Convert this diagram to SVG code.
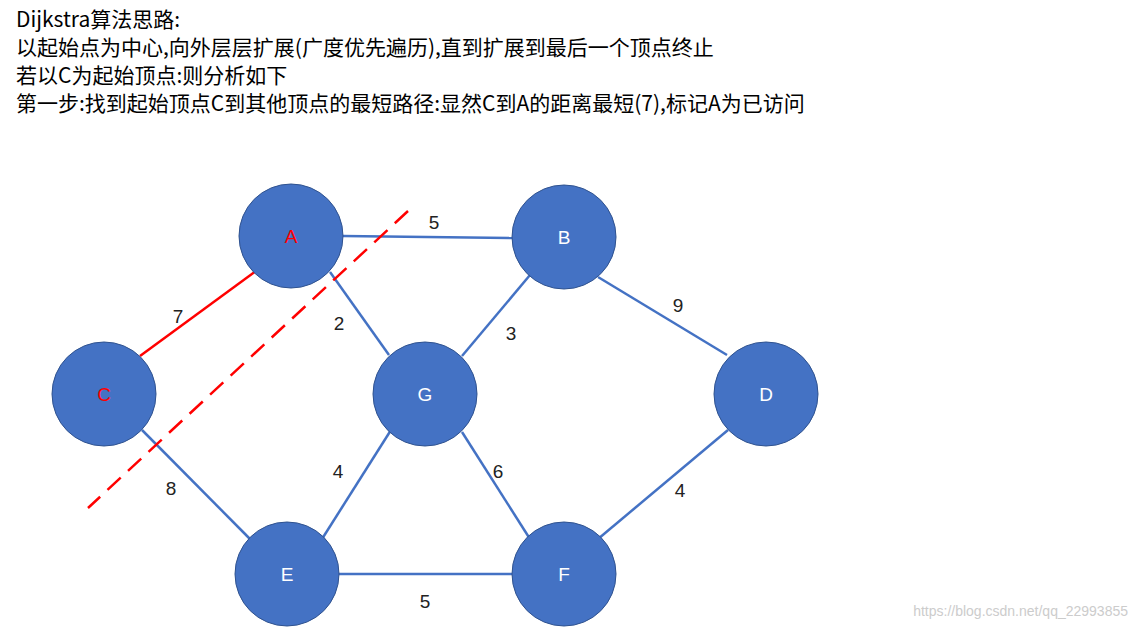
<svg xmlns="http://www.w3.org/2000/svg" width="1138" height="630" viewBox="0 0 1138 630">
<style>
.t{font-family:"Microsoft YaHei","Noto Sans CJK SC",sans-serif;font-size:21px;fill:#000}
.n circle{fill:#4472C4;stroke:#2F528F;stroke-width:1}
.n text{font-family:"Liberation Sans","Noto Sans CJK SC",sans-serif;font-size:19px;fill:#fff;text-anchor:middle}
.e line{stroke:#4472C4;stroke-width:2.5}
.w{font-family:"Liberation Sans",sans-serif;font-size:19px;fill:#222;text-anchor:middle}
</style>
<rect width="1138" height="630" fill="#fff"/>
<text class="t" x="16" y="27">Dijkstra算法思路:</text>
<text class="t" x="16" y="55">以起始点为中心,向外层层扩展(广度优先遍历),直到扩展到最后一个顶点终止</text>
<text class="t" x="16" y="83">若以C为起始顶点:则分析如下</text>
<text class="t" x="16" y="111">第一步:找到起始顶点C到其他顶点的最短路径:显然C到A的距离最短(7),标记A为已访问</text>
<g id="connectors" class="e">
<line x1="343" y1="236" x2="513" y2="238"/>
<line x1="330" y1="272" x2="389" y2="355"/>
<line x1="530" y1="275" x2="462" y2="356"/>
<line x1="598" y1="277" x2="727" y2="355"/>
<line x1="391" y1="430" x2="322" y2="539"/>
<line x1="462" y1="432" x2="530" y2="539"/>
<line x1="728" y1="430" x2="598" y2="539"/>
<line x1="142" y1="430" x2="250" y2="539"/>
<line x1="339" y1="574" x2="512" y2="574"/>
<line x1="140" y1="356" x2="256" y2="271" style="stroke:#f00"/>
<line x1="408" y1="211" x2="88" y2="508" style="stroke:#f00;stroke-dasharray:18,10"/>
</g>
<g class="w">
<text x="434" y="229">5</text><text x="178" y="323">7</text><text x="339" y="330">2</text>
<text x="511" y="340">3</text><text x="678" y="312">9</text><text x="338" y="478">4</text>
<text x="498" y="478">6</text><text x="680" y="497">4</text><text x="171" y="495">8</text>
<text x="425" y="608">5</text>
</g>
<g id="A" class="n"><circle cx="291" cy="236" r="52"/><text x="291" y="243" style="fill:#f00">A</text></g>
<g id="B" class="n"><circle cx="564" cy="237" r="52"/><text x="564" y="244">B</text></g>
<g id="C" class="n"><circle cx="104" cy="394" r="52"/><text x="104" y="401" style="fill:#f00">C</text></g>
<g id="G" class="n"><circle cx="425" cy="394" r="52"/><text x="425" y="401">G</text></g>
<g id="D" class="n"><circle cx="766" cy="394" r="52"/><text x="766" y="401">D</text></g>
<g id="E" class="n"><circle cx="287" cy="574" r="52"/><text x="287" y="581">E</text></g>
<g id="F" class="n"><circle cx="564" cy="574" r="52"/><text x="564" y="581">F</text></g>
<text x="1128" y="616" style="font-family:'Liberation Sans',sans-serif;font-size:14px;fill:#ccc;text-anchor:end">https://blog.csdn.net/qq_22993855</text>
</svg>
